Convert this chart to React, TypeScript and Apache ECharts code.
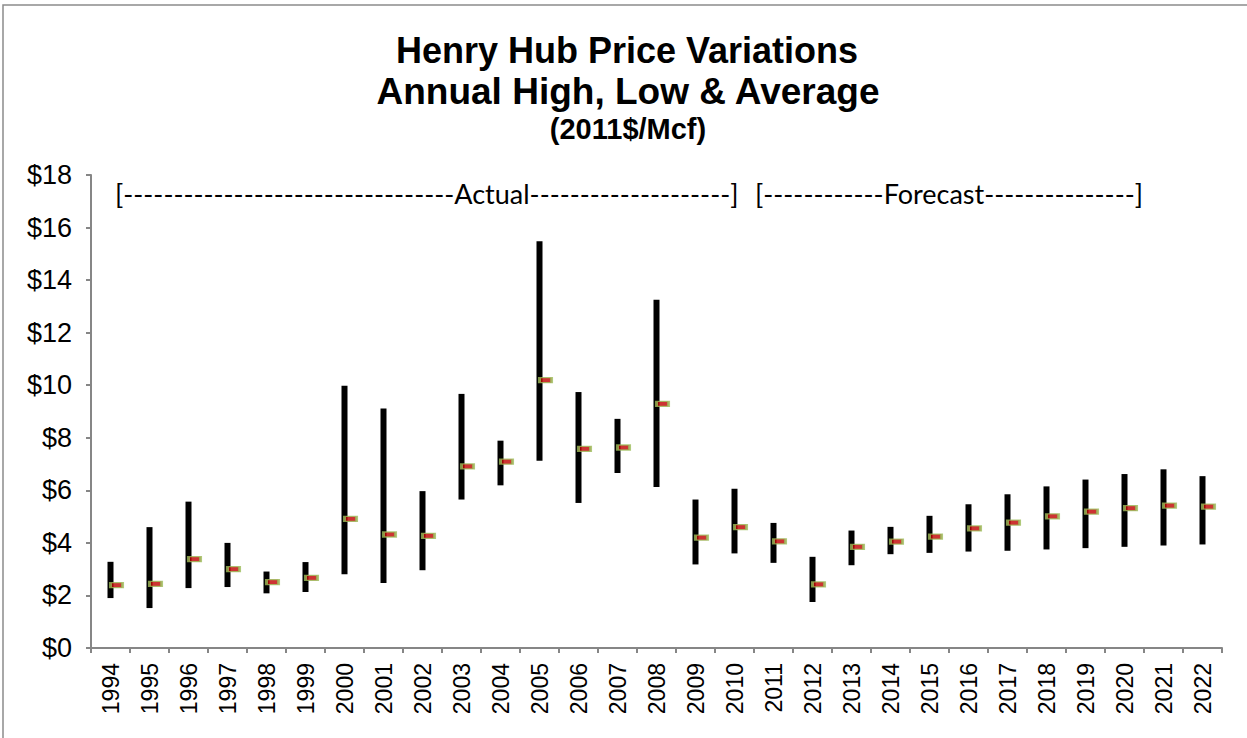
import React, { useEffect, useRef } from "react";
import * as echarts from "echarts";

const years = ["1994","1995","1996","1997","1998","1999","2000","2001","2002","2003","2004","2005","2006","2007","2008","2009","2010","2011","2012","2013","2014","2015","2016","2017","2018","2019","2020","2021","2022"];
const highs = [3.28, 4.6, 5.57, 4.0, 2.91, 3.27, 9.98, 9.11, 5.97, 9.67, 7.89, 15.48, 9.74, 8.72, 13.25, 5.65, 6.06, 4.76, 3.47, 4.47, 4.61, 5.03, 5.47, 5.85, 6.15, 6.41, 6.62, 6.8, 6.54];
const lows = [1.9, 1.52, 2.28, 2.32, 2.08, 2.13, 2.81, 2.47, 2.96, 5.65, 6.19, 7.13, 5.52, 6.66, 6.13, 3.18, 3.6, 3.24, 1.75, 3.15, 3.57, 3.62, 3.67, 3.7, 3.75, 3.8, 3.85, 3.9, 3.94];
const averages = [2.39, 2.44, 3.38, 3.0, 2.51, 2.67, 4.91, 4.32, 4.27, 6.91, 7.09, 10.19, 7.58, 7.63, 9.29, 4.2, 4.6, 4.06, 2.42, 3.85, 4.05, 4.24, 4.55, 4.77, 5.01, 5.19, 5.32, 5.42, 5.38];

const titleLines = ["Henry Hub Price Variations", "Annual High, Low & Average", "(2011$/Mcf)"];
const actualLabel = "[" + "-".repeat(33) + "Actual" + "-".repeat(20) + "]";
const forecastLabel = "[" + "-".repeat(12) + "Forecast" + "-".repeat(15) + "]";

const ARIAL = "'Liberation Sans', Arial, sans-serif";

export default function App() {
  const ref = useRef<HTMLDivElement>(null);
  useEffect(() => {
    if (!ref.current) return;
    const chart = echarts.init(ref.current, null, { renderer: "svg" });
    const rangeData = years.map((_, i) => [i, lows[i], highs[i]]);
    chart.setOption({
      animation: false,
      backgroundColor: "#ffffff",
      grid: { left: 91, right: 25, top: 175, bottom: 90, containLabel: false },
      xAxis: {
        type: "category",
        data: years,
        boundaryGap: true,
        axisLine: { lineStyle: { color: "#868686", width: 2 } },
        axisTick: { show: true, interval: 0, length: 5, lineStyle: { color: "#868686", width: 2 } },
        axisLabel: {
          interval: 0,
          rotate: 90,
          margin: 15,
          color: "#000",
          fontFamily: ARIAL,
          fontSize: 23,
        },
      },
      yAxis: {
        type: "value",
        min: 0,
        max: 18,
        interval: 2,
        splitLine: { show: false },
        axisLine: { show: true, lineStyle: { color: "#868686", width: 2 } },
        axisTick: { show: true, length: 5, lineStyle: { color: "#868686", width: 2 } },
        axisLabel: {
          formatter: (v: number) => "$" + v,
          color: "#000",
          margin: 19,
          fontFamily: ARIAL,
          fontSize: 27,
        },
      },
      series: [
        {
          type: "custom",
          name: "High-Low",
          data: rangeData,
          encode: { x: 0, y: [1, 2] },
          renderItem: (params: any, api: any) => {
            const idx = api.value(0);
            const lo = api.coord([idx, api.value(1)]);
            const hi = api.coord([idx, api.value(2)]);
            return {
              type: "rect",
              shape: { x: lo[0] - 3, y: hi[1], width: 6, height: lo[1] - hi[1] },
              style: { fill: "#000000" },
            };
          },
          z: 2,
        },
        {
          type: "scatter",
          name: "Average",
          data: averages,
          symbol: "rect",
          symbolSize: [12, 5],
          symbolOffset: [6, 0],
          itemStyle: { color: "#C00000", borderColor: "#9BBB59", borderWidth: 2 },
          z: 3,
        },
      ],
      graphic: [
        {
          type: "rect",
          shape: { x: 3, y: 5, width: 1400, height: 900 },
          style: { fill: "none", stroke: "#8c8c8c", lineWidth: 1.5 },
          silent: true,
        },
        {
          type: "text",
          x: 627,
          y: 50,
          style: { text: titleLines[0], fill: "#000", font: "bold 36px " + ARIAL, textAlign: "center", textVerticalAlign: "middle" },
        },
        {
          type: "text",
          x: 628,
          y: 91,
          style: { text: titleLines[1], fill: "#000", font: "bold 37px " + ARIAL, textAlign: "center", textVerticalAlign: "middle" },
        },
        {
          type: "text",
          x: 628,
          y: 129,
          style: { text: titleLines[2], fill: "#000", font: "bold 29px " + ARIAL, textAlign: "center", textVerticalAlign: "middle" },
        },
        {
          type: "text",
          x: 115,
          y: 193,
          style: { text: actualLabel, fill: "#000", font: "27px Lato, 'Open Sans', sans-serif", textAlign: "left", textVerticalAlign: "middle" },
        },
        {
          type: "text",
          x: 755,
          y: 193,
          style: { text: forecastLabel, fill: "#000", font: "27px Lato, 'Open Sans', sans-serif", textAlign: "left", textVerticalAlign: "middle" },
        },
      ],
    });
    return () => chart.dispose();
  }, []);
  return <div ref={ref} style={{ width: 1247, height: 738, position: "absolute", left: 0, top: 0 }} />;
}
